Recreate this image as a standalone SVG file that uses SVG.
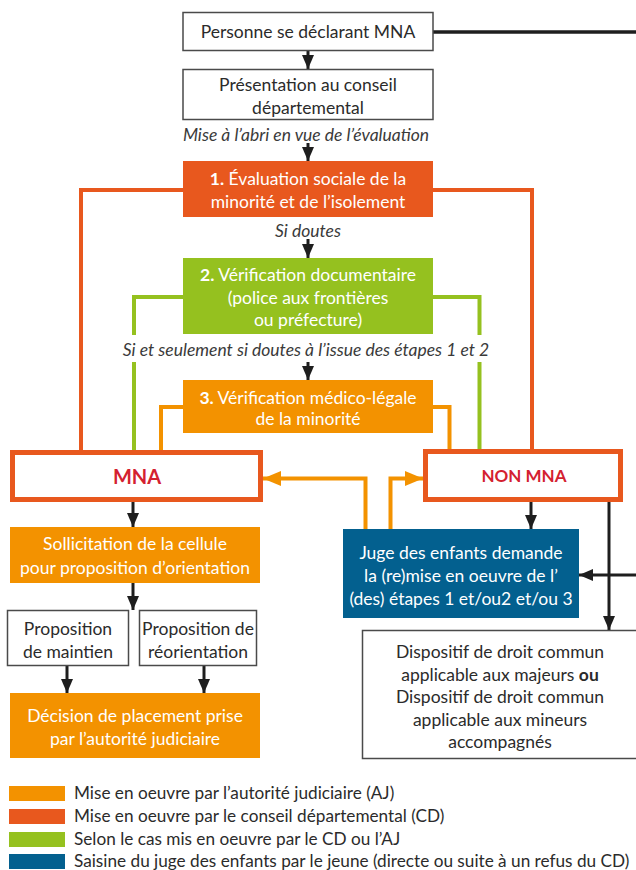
<svg xmlns="http://www.w3.org/2000/svg" width="636" height="870" viewBox="0 0 636 870">
<style>
text{font-family:Lato,"Liberation Sans",sans-serif;fill:#2b2b2b;text-anchor:middle}
.t{font-size:17.5px}
.w{fill:#fff}
.it{font-size:17.5px;font-style:italic;fill:#3a3a3a}
.lg{font-size:17.2px;text-anchor:start}
.plain{fill:#fff;stroke:#4a4a4a;stroke-width:1.5}
.blk{stroke:#1e1e1e;stroke-width:3;fill:none}
.red{stroke:#E8581E;stroke-width:4;fill:none}
.grn{stroke:#95C11F;stroke-width:4;fill:none}
.org{stroke:#F39200;stroke-width:4;fill:none}
.res{fill:#fff;stroke:#E8581E;stroke-width:5}
.rt{font-weight:bold;fill:#D42130}
</style>
<defs>
<marker id="ab" markerUnits="userSpaceOnUse" markerWidth="14" markerHeight="12" refX="14" refY="6" orient="auto"><path d="M0,0 L14,6 L0,12 z" fill="#1e1e1e"/></marker>
<marker id="ao" markerUnits="userSpaceOnUse" markerWidth="18" markerHeight="15" refX="18" refY="7.5" orient="auto"><path d="M0,0 L18,7.5 L0,15 z" fill="#F39200"/></marker>
</defs>

<g id="connectors">
<line class="blk" x1="433" y1="32" x2="636" y2="32" style="stroke-width:3.5"/>
<line class="blk" x1="308" y1="51" x2="308" y2="69" marker-end="url(#ab)"/>
<line class="blk" x1="308" y1="143" x2="308" y2="161" marker-end="url(#ab)"/>
<line class="blk" x1="308" y1="239" x2="308" y2="258" marker-end="url(#ab)"/>
<line class="blk" x1="308" y1="362" x2="308" y2="380" marker-end="url(#ab)"/>
<polyline class="red" points="183,190 81,190 81,451"/>
<polyline class="red" points="433,190 532,190 532,450"/>
<polyline class="grn" points="183,297 134,297 134,451"/>
<polyline class="grn" points="433,297 479.5,297 479.5,450"/>
<polyline class="org" points="183,407 161,407 161,451"/>
<polyline class="org" points="433,407 449.5,407 449.5,450"/>
<polyline class="org" points="365.5,529 365.5,478.5 263,478.5" marker-end="url(#ao)"/>
<polyline class="org" points="390.5,529 390.5,478.5 423,478.5" marker-end="url(#ao)"/>
<line class="blk" x1="133" y1="502" x2="133" y2="527" marker-end="url(#ab)"/>
<line class="blk" x1="133" y1="583" x2="133" y2="610" marker-end="url(#ab)"/>
<line class="blk" x1="67" y1="665" x2="67" y2="693" marker-end="url(#ab)"/>
<line class="blk" x1="204" y1="665" x2="204" y2="693" marker-end="url(#ab)"/>
<line class="blk" x1="531" y1="502" x2="531" y2="529" marker-end="url(#ab)"/>
<line class="blk" x1="609" y1="502" x2="609" y2="630" marker-end="url(#ab)"/>
<line class="blk" x1="636" y1="575" x2="579" y2="575" marker-end="url(#ab)"/>
</g>

<g id="label-abri"><text class="it" x="306" y="140.5">Mise à l’abri en vue de l’évaluation</text></g>
<g id="label-doutes"><text class="it" x="308" y="236.5">Si doutes</text></g>
<g id="label-seulement"><rect x="122" y="335" width="372" height="27" fill="#fff"/><text class="it" x="306" y="356">Si et seulement si doutes à l’issue des étapes 1 et 2</text></g>

<g id="personne"><rect class="plain" x="183" y="12.5" width="250" height="38"/><text class="t" x="308" y="37.5">Personne se déclarant MNA</text></g>
<g id="presentation"><rect class="plain" x="183" y="69.5" width="250" height="50"/><text class="t" x="308" y="91">Présentation au conseil</text><text class="t" x="308" y="114">départemental</text></g>
<g id="etape1"><rect x="183" y="161" width="250" height="56" fill="#E8581E"/><text class="t w" x="308" y="185"><tspan font-weight="bold">1.</tspan> Évaluation sociale de la</text><text class="t w" x="308" y="207.7">minorité et de l’isolement</text></g>
<g id="etape2"><rect x="183" y="258" width="250" height="76" fill="#95C11F"/><text class="t w" x="308" y="281"><tspan font-weight="bold">2.</tspan> Vérification documentaire</text><text class="t w" x="308" y="303.7">(police aux frontières</text><text class="t w" x="308" y="326">ou préfecture)</text></g>
<g id="etape3"><rect x="183" y="380" width="250" height="53" fill="#F39200"/><text class="t w" x="308" y="403.7"><tspan font-weight="bold">3.</tspan> Vérification médico-légale</text><text class="t w" x="308" y="425.3">de la minorité</text></g>

<g id="mna"><rect class="res" x="12.5" y="452.5" width="248" height="47"/><text class="rt" x="137" y="484" font-size="20">MNA</text></g>
<g id="nonmna"><rect class="res" x="425.5" y="451.5" width="195" height="48"/><text class="rt" x="524" y="482" font-size="17">NON MNA</text></g>

<g id="sollicitation"><rect x="10" y="527" width="250" height="56" fill="#F39200"/><text class="t w" x="135" y="550">Sollicitation de la cellule</text><text class="t w" x="135" y="573.7">pour proposition d’orientation</text></g>
<g id="maintien"><rect class="plain" x="7.5" y="610.5" width="121" height="55"/><text class="t" x="68" y="635">Proposition</text><text class="t" x="68" y="657.7">de maintien</text></g>
<g id="reorientation"><rect class="plain" x="139.5" y="610.5" width="117" height="55"/><text class="t" x="198" y="635">Proposition de</text><text class="t" x="198" y="657.7">réorientation</text></g>
<g id="decision"><rect x="10" y="693" width="250" height="65" fill="#F39200"/><text class="t w" x="135" y="722">Décision de placement prise</text><text class="t w" x="135" y="745">par l’autorité judiciaire</text></g>

<g id="juge"><rect x="343" y="529" width="236" height="89" fill="#03608F"/><text class="t w" x="461" y="559">Juge des enfants demande</text><text class="t w" x="461" y="582">la (re)mise en oeuvre de l’</text><text class="t w" x="461" y="605">(des) étapes 1 et/ou2 et/ou 3</text></g>
<g id="dispositif"><rect class="plain" x="362.5" y="630.5" width="280" height="128"/><text class="t" x="500" y="658">Dispositif de droit commun</text><text class="t" x="500" y="680.5">applicable aux majeurs <tspan font-weight="bold">ou</tspan></text><text class="t" x="500" y="703">Dispositif de droit commun</text><text class="t" x="500" y="725.5">applicable aux mineurs</text><text class="t" x="500" y="748">accompagnés</text></g>

<g id="legend">
<rect x="9" y="786" width="56" height="15" fill="#F39200"/>
<rect x="9" y="809" width="56" height="15" fill="#E8581E"/>
<rect x="9" y="832" width="56" height="15" fill="#95C11F"/>
<rect x="9" y="854" width="56" height="15" fill="#03608F"/>
<text class="lg" x="74" y="799">Mise en oeuvre par l’autorité judiciaire (AJ)</text>
<text class="lg" x="74" y="822">Mise en oeuvre par le conseil départemental (CD)</text>
<text class="lg" x="74" y="845">Selon le cas mis en oeuvre par le CD ou l’AJ</text>
<text class="lg" x="74" y="867">Saisine du juge des enfants par le jeune (directe ou suite à un refus du CD)</text>
</g>
</svg>
